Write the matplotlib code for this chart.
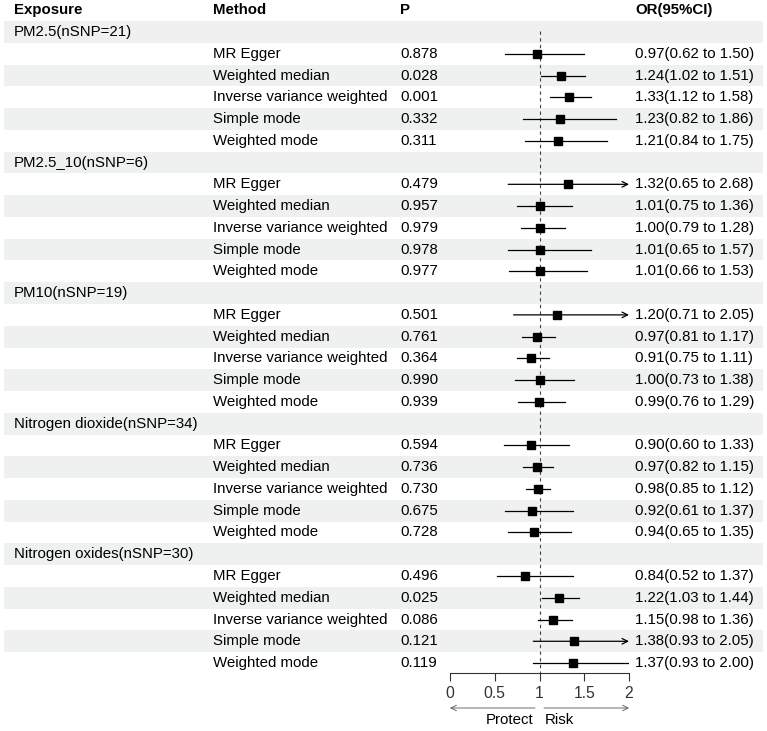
import numpy as np
import matplotlib.pyplot as plt

plt.rcParams['font.family'] = ['Liberation Sans', 'DejaVu Sans']

# --- data ---
exposures = ['PM2.5(nSNP=21)', 'PM2.5_10(nSNP=6)', 'PM10(nSNP=19)',
             'Nitrogen dioxide(nSNP=34)', 'Nitrogen oxides(nSNP=30)']
methods = ['MR Egger', 'Weighted median', 'Inverse variance weighted',
           'Simple mode', 'Weighted mode']

p_values = ['0.878', '0.028', '0.001', '0.332', '0.311',
            '0.479', '0.957', '0.979', '0.978', '0.977',
            '0.501', '0.761', '0.364', '0.990', '0.939',
            '0.594', '0.736', '0.730', '0.675', '0.728',
            '0.496', '0.025', '0.086', '0.121', '0.119']
or_est = [0.97, 1.24, 1.33, 1.23, 1.21,
          1.32, 1.01, 1.00, 1.01, 1.01,
          1.20, 0.97, 0.91, 1.00, 0.99,
          0.90, 0.97, 0.98, 0.92, 0.94,
          0.84, 1.22, 1.15, 1.38, 1.37]
ci_lo = [0.62, 1.02, 1.12, 0.82, 0.84,
         0.65, 0.75, 0.79, 0.65, 0.66,
         0.71, 0.81, 0.75, 0.73, 0.76,
         0.60, 0.82, 0.85, 0.61, 0.65,
         0.52, 1.03, 0.98, 0.93, 0.93]
ci_hi = [1.50, 1.51, 1.58, 1.86, 1.75,
         2.68, 1.36, 1.28, 1.57, 1.53,
         2.05, 1.17, 1.11, 1.38, 1.29,
         1.33, 1.15, 1.12, 1.37, 1.35,
         1.37, 1.44, 1.36, 2.05, 2.00]

headers = ['Exposure', 'Method', 'P', 'OR(95%CI)']
x_ticks = [0, 0.5, 1, 1.5, 2]
x_ticklabels = ['0', '0.5', '1', '1.5', '2']

# --- layout ---
W, H = 767, 731
FS = 10.8
ROW0, ROWH = 10.24, 21.76
STRIPE = '#eff1f1'


def row_of(py):
    return (py - ROW0) / ROWH


fig = plt.figure(figsize=(W / 100, H / 100), dpi=100)

bg = fig.add_axes([0, 0, 1, 1])
bg.set_xlim(0, W)
bg.set_ylim(row_of(H), row_of(0))
bg.axis('off')

col_x = [14, 213, 400, 635]

# header
for x, h in zip(col_x, headers):
    bg.text(x, 0, h, ha='left', va='center', fontsize=FS, fontweight='bold')

# forest panel
axis_py = 673
fa = fig.add_axes([450 / W, (H - axis_py) / H, 179 / W, axis_py / H])
fa.set_xlim(0, 2)
fa.set_ylim(row_of(axis_py), row_of(0))
fa.patch.set_alpha(0)
for s in ['top', 'left', 'right']:
    fa.spines[s].set_visible(False)
fa.spines['bottom'].set_linewidth(0.8)
fa.spines['bottom'].set_color('#333333')
fa.set_yticks([])
fa.set_xticks(x_ticks)
fa.set_xticklabels(x_ticklabels)
fa.tick_params(axis='x', length=6, width=0.8, pad=3, labelsize=11.3,
               colors='#333333')

n_rows = len(exposures) * (len(methods) + 1)
for r in range(1, n_rows + 1):
    if r % 2 == 1:
        bg.axhspan(r - 0.5, r + 0.5, xmin=4 / W, xmax=763 / W,
                   color=STRIPE, lw=0, zorder=0)

fa.plot([1, 1], [row_of(31), row_of(axis_py)], ls=(0, (3, 3)),
        color='#444444', lw=0.8, zorder=1)

k = 0
for g, exp in enumerate(exposures):
    r = 1 + g * (len(methods) + 1)
    bg.text(col_x[0], r, exp, ha='left', va='center', fontsize=FS)
    for m, meth in enumerate(methods):
        rr = r + 1 + m
        bg.text(col_x[1], rr, meth, ha='left', va='center', fontsize=FS)
        bg.text(col_x[2], rr, p_values[k], ha='left', va='center', fontsize=FS)
        label = f'{or_est[k]:.2f}({ci_lo[k]:.2f} to {ci_hi[k]:.2f})'
        bg.text(col_x[3], rr, label, ha='left', va='center', fontsize=FS)
        if ci_hi[k] > 2:
            fa.annotate('', xy=(2, rr), xytext=(ci_lo[k], rr),
                        arrowprops=dict(arrowstyle='->', lw=0.9, color='k',
                                        shrinkA=0, shrinkB=0))
        else:
            fa.plot([ci_lo[k], ci_hi[k]], [rr, rr], color='k', lw=0.9,
                    zorder=2)
        fa.plot(or_est[k], rr, 's', ms=5.2, color='k', zorder=3)
        k += 1

# direction arrows below the axis
arr_r = row_of(708)
fa.annotate('', xy=(0, arr_r), xytext=(0.95, arr_r), annotation_clip=False,
            arrowprops=dict(arrowstyle='->', lw=0.6, color='#555555',
                            shrinkA=0, shrinkB=0))
fa.annotate('', xy=(2, arr_r), xytext=(1.05, arr_r), annotation_clip=False,
            arrowprops=dict(arrowstyle='->', lw=0.6, color='#555555',
                            shrinkA=0, shrinkB=0))
txt_r = row_of(720)
fa.text(0.93, txt_r, 'Protect', ha='right', va='center', fontsize=FS,
        clip_on=False)
fa.text(1.06, txt_r, 'Risk', ha='left', va='center', fontsize=FS,
        clip_on=False)

fig.savefig('out.png', dpi=100)
